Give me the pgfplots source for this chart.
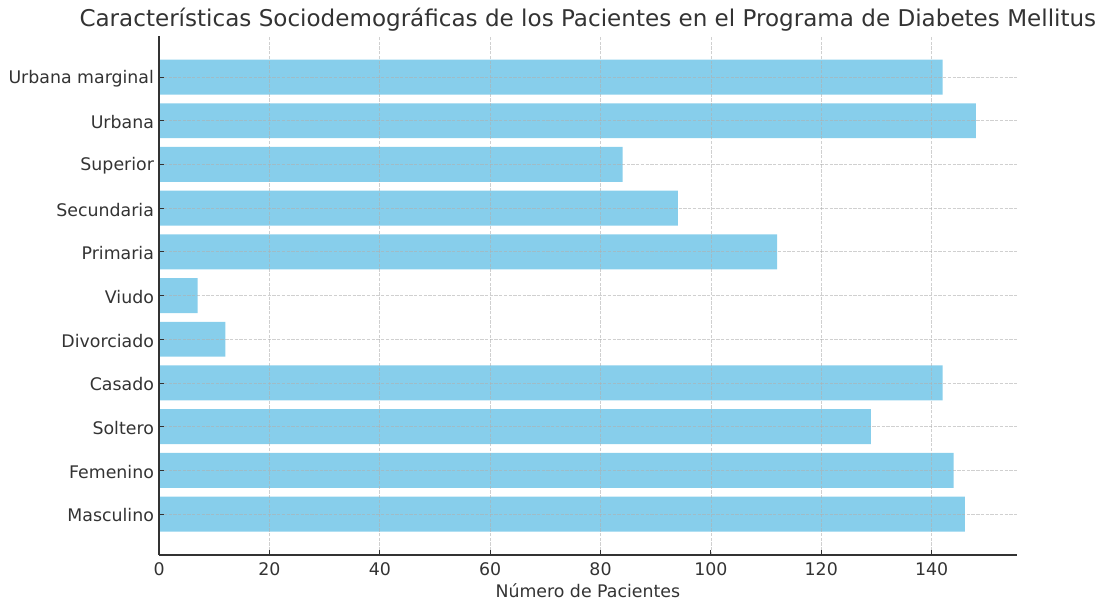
\documentclass[border=0pt]{standalone}
\usepackage{pgfplots}
\pgfplotsset{compat=1.18}
\usepackage{fontspec}
\setmainfont{DejaVu Sans}
\definecolor{skyblue}{HTML}{87CEEB}
\definecolor{txt}{HTML}{333333}
\definecolor{gridc}{HTML}{B0B0B0}
\begin{document}
\begin{tikzpicture}
\begin{axis}[
  scale only axis, width=617.3pt, height=373.7pt,
  xbar, bar width=0.8,
  xmin=0, xmax=155.4, ymin=-0.94, ymax=10.94,
  ytick={0,...,10},
  yticklabels={Masculino,Femenino,Soltero,Casado,Divorciado,Viudo,Primaria,Secundaria,Superior,Urbana,Urbana marginal},
  xtick={0,20,...,140},
  axis x line*=bottom, axis y line*=left,
  axis line style={-, color=txt, line width=0.9pt},
  tick align=inside, major tick length=3.5pt,
  tick style={color=txt, line width=0.6pt},
  grid=major,
  grid style={dash pattern=on 2.4pt off 1pt, line width=0.5pt, color=gridc, opacity=0.6},
  axis on top,
  ticklabel style={font=\fontsize{12.5}{14}\selectfont, text=txt},
  yticklabel style={inner sep=0pt, xshift=-3.5pt, yshift=-1pt},
  xticklabel style={inner sep=0pt, yshift=-5pt},
  /pgf/number format/assume math mode=true,
  xlabel={Número de Pacientes},
  xlabel style={font=\fontsize{12.5}{14}\selectfont, text=txt, inner sep=0pt, yshift=-6pt},
  title={Características Sociodemográficas de los Pacientes en el Programa de Diabetes Mellitus},
  title style={font=\fontsize{16.6}{19}\selectfont, text=txt, at={(0.5,1)}, anchor=base, yshift=1pt, inner sep=0pt},
]
\addplot[fill=skyblue, draw=none] coordinates {
  (146,0) (144,1) (129,2) (142,3) (12,4) (7,5) (112,6) (94,7) (84,8) (148,9) (142,10)
};
\end{axis}
\pgfresetboundingbox
\path ([xshift=-114.5pt, yshift=-33.1pt]current axis.south west) rectangle ([xshift=62.9pt, yshift=25.9pt]current axis.north east);
\end{tikzpicture}
\end{document}
